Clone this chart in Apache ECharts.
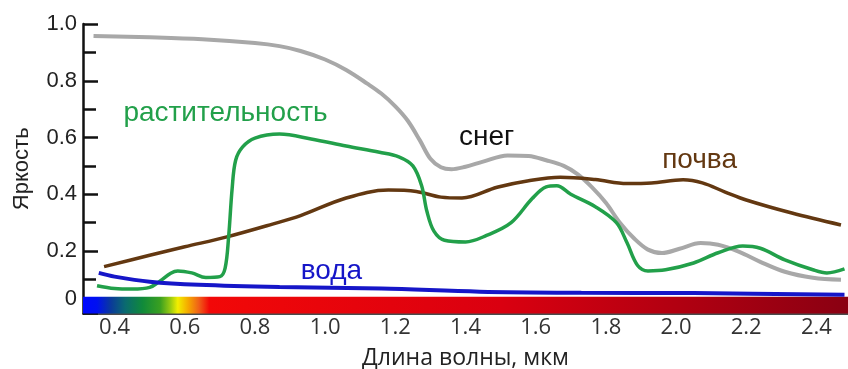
<!DOCTYPE html>
<html>
<head>
<meta charset="utf-8">
<script src="https://cdn.jsdelivr.net/npm/echarts@6/dist/echarts.min.js"></script>
<style>
  html, body { margin: 0; padding: 0; background: #fff; }
  #chart { width: 848px; height: 369px; }
</style>
</head>
<body>
<div id="chart"></div>
<script>
// Spectral reflectance curves (wavelength in µm, brightness 0..1)
const snowWl = [0.34, 0.50, 0.65, 0.80, 0.87, 0.93, 1.00, 1.06, 1.12, 1.16, 1.20, 1.235, 1.27, 1.30, 1.33, 1.36, 1.40, 1.45, 1.52, 1.58, 1.63, 1.68, 1.72, 1.76, 1.80, 1.84, 1.88, 1.92, 1.96, 2.01, 2.07, 2.12, 2.18, 2.24, 2.31, 2.39, 2.47];
const snowVal = [0.958, 0.953, 0.946, 0.933, 0.922, 0.905, 0.875, 0.838, 0.79, 0.755, 0.71, 0.66, 0.59, 0.525, 0.495, 0.488, 0.497, 0.515, 0.537, 0.535, 0.52, 0.50, 0.47, 0.425, 0.37, 0.30, 0.245, 0.205, 0.193, 0.208, 0.228, 0.222, 0.197, 0.162, 0.127, 0.106, 0.099];

const vegWl = [0.35, 0.40, 0.45, 0.50, 0.53, 0.56, 0.58, 0.62, 0.66, 0.70, 0.715, 0.725, 0.735, 0.745, 0.765, 0.80, 0.87, 0.96, 1.06, 1.155, 1.21, 1.25, 1.275, 1.29, 1.31, 1.34, 1.40, 1.46, 1.53, 1.59, 1.63, 1.66, 1.70, 1.77, 1.83, 1.86, 1.89, 1.92, 1.97, 2.05, 2.12, 2.19, 2.24, 2.31, 2.39, 2.43, 2.48];
const vegVal = [0.078, 0.068, 0.066, 0.072, 0.095, 0.122, 0.13, 0.123, 0.107, 0.11, 0.14, 0.25, 0.42, 0.52, 0.567, 0.598, 0.612, 0.595, 0.57, 0.548, 0.532, 0.50, 0.43, 0.34, 0.27, 0.238, 0.232, 0.255, 0.30, 0.385, 0.426, 0.43, 0.40, 0.356, 0.30, 0.23, 0.15, 0.13, 0.134, 0.158, 0.194, 0.218, 0.21, 0.169, 0.134, 0.123, 0.137];

const soilWl = [0.37, 0.50, 0.60, 0.72, 0.85, 0.93, 1.06, 1.18, 1.26, 1.33, 1.39, 1.49, 1.58, 1.67, 1.77, 1.86, 1.93, 2.02, 2.075, 2.14, 2.20, 2.33, 2.47];
const soilVal = [0.145, 0.185, 0.215, 0.25, 0.295, 0.325, 0.387, 0.415, 0.41, 0.39, 0.387, 0.425, 0.448, 0.46, 0.452, 0.438, 0.44, 0.451, 0.44, 0.408, 0.38, 0.334, 0.292];

const waterWl = [0.355, 0.40, 0.50, 0.64, 0.87, 1.16, 1.44, 1.73, 2.05, 2.48];
const waterVal = [0.123, 0.11, 0.092, 0.081, 0.073, 0.068, 0.057, 0.053, 0.052, 0.046];

// Axis extents and the spectrum strip (wavelength range, brightness band)
const wlRange = [0.31, 2.49];
const brightRange = [-0.02, 1.0];
const stripBand = [-0.02, 0.039];

// Curve captions: [text, wavelength, brightness]
const captions = {
  veg: ['растительность', 0.716, 0.687],
  snow: ['снег', 1.46, 0.602],
  soil: ['почва', 2.067, 0.521],
  water: ['вода', 1.018, 0.13]
};

const FONT = 'Liberation Sans, Arial, sans-serif';
const FONT_X = 'Open Sans, Liberation Sans, sans-serif';
const pairs = (xs, ys) => xs.map((x, i) => [x, ys[i]]);

// Colour stops of the visible-to-infrared spectrum strip, keyed by wavelength
const spectrumStops = [
  [0.31, '#0008ff'], [0.35, '#0010f0'], [0.39, '#0a3a9a'], [0.43, '#0a6a70'],
  [0.48, '#108a3a'], [0.53, '#3aa020'], [0.56, '#9ccc10'], [0.58, '#f2ee00'],
  [0.61, '#f5a800'], [0.64, '#f06018'], [0.67, '#f20808'], [1.50, '#da0010'],
  [2.49, '#8a0012']
];

function captionPoint(c, color) {
  return {
    symbol: 'circle', symbolSize: 1, silent: true,
    itemStyle: { color: 'rgba(0,0,0,0)' },
    data: [{
      coord: [c[1], c[2]],
      label: {
        show: true, position: 'inside', formatter: c[0],
        color: color, fontSize: 28, fontFamily: FONT
      }
    }]
  };
}

const chart = echarts.init(document.getElementById('chart'), null, { renderer: 'canvas' });

const option = {
  animation: false,
  backgroundColor: '#ffffff',
  grid: { left: 83, right: 0, top: 24, bottom: 55.5, containLabel: false, outerBoundsMode: 'none' },
  xAxis: {
    type: 'value',
    min: wlRange[0], max: wlRange[1],
    splitNumber: 11, minInterval: 0.2, maxInterval: 0.2,
    name: 'Длина волны, мкм',
    nameLocation: 'middle', nameGap: 33,
    nameTextStyle: { fontSize: 23, color: '#222', fontFamily: FONT_X },
    axisLine: { show: true, onZero: false, lineStyle: { color: '#111', width: 1.5 } },
    axisTick: { show: false },
    splitLine: { show: false },
    axisLabel: {
      showMinLabel: false, showMaxLabel: false,
      fontSize: 22, color: '#333', fontFamily: FONT_X, margin: 3,
      formatter: v => v.toFixed(1)
    }
  },
  yAxis: {
    type: 'value',
    min: brightRange[0], max: brightRange[1],
    splitNumber: 5,
    name: 'Яркость',
    nameLocation: 'middle', nameRotate: 90, nameGap: 50,
    nameTextStyle: { fontSize: 22, color: '#222', fontFamily: FONT },
    axisLine: { show: true, onZero: false, lineStyle: { color: '#111', width: 2.5 } },
    axisTick: { show: true, inside: true, length: 15, lineStyle: { color: '#111', width: 2.5 } },
    minorTick: { show: true, splitNumber: 2, length: 13, lineStyle: { color: '#111', width: 2.5 } },
    splitLine: { show: false },
    axisLabel: {
      showMinLabel: false,
      fontSize: 22, color: '#222', fontFamily: FONT, margin: 6,
      formatter: v => (v < 0 ? '' : (v === 0 ? '{z|0}' : v.toFixed(1))),
      rich: { z: { fontSize: 22, color: '#222', fontFamily: FONT, padding: [0, 0, 18, 0] } }
    }
  },
  series: [
    {
      type: 'custom',
      name: 'spectrum',
      silent: true,
      z: 1,
      data: [[wlRange[0], wlRange[1]]],
      renderItem: function (params, api) {
        const p0 = api.coord([api.value(0), stripBand[1]]);
        const p1 = api.coord([api.value(1), stripBand[0]]);
        const span = wlRange[1] - wlRange[0];
        const stops = spectrumStops.map(s => ({ offset: (s[0] - wlRange[0]) / span, color: s[1] }));
        return {
          type: 'rect',
          shape: { x: p0[0], y: p0[1], width: p1[0] - p0[0], height: p1[1] - p0[1] },
          style: { fill: new echarts.graphic.LinearGradient(0, 0, 1, 0, stops) }
        };
      }
    },
    {
      type: 'line', name: 'снег', z: 3, smooth: 0.35, showSymbol: false,
      data: pairs(snowWl, snowVal),
      lineStyle: { color: '#a8a8a8', width: 4 },
      markPoint: captionPoint(captions.snow, '#111')
    },
    {
      type: 'line', name: 'почва', z: 4, smooth: 0.35, showSymbol: false,
      data: pairs(soilWl, soilVal),
      lineStyle: { color: '#633811', width: 3.5 },
      markPoint: captionPoint(captions.soil, '#633811')
    },
    {
      type: 'line', name: 'растительность', z: 5, smooth: 0.35, showSymbol: false,
      data: pairs(vegWl, vegVal),
      lineStyle: { color: '#22a04a', width: 3.5 },
      markPoint: captionPoint(captions.veg, '#22a04a')
    },
    {
      type: 'line', name: 'вода', z: 6, smooth: 0.35, showSymbol: false,
      data: pairs(waterWl, waterVal),
      lineStyle: { color: '#1616c8', width: 4 },
      markPoint: captionPoint(captions.water, '#1616c8')
    }
  ]
};

chart.setOption(option);
</script>
</body>
</html>
